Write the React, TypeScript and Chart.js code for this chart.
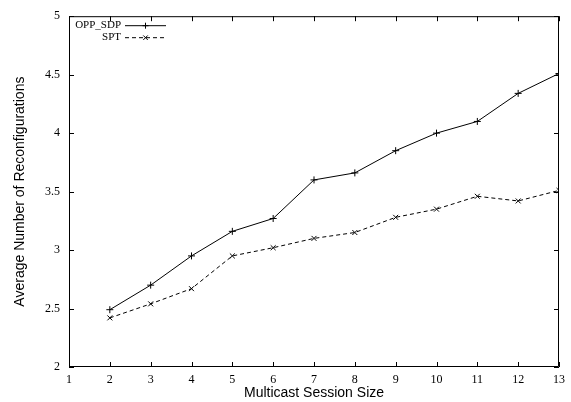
import React, { useEffect, useRef } from "react";
import { Chart, registerables } from "chart.js";

Chart.register(...registerables);

const sessionSizes = [2, 3, 4, 5, 6, 7, 8, 9, 10, 11, 12, 13];
const oppSdp = [2.49, 2.7, 2.95, 3.16, 3.27, 3.6, 3.66, 3.85, 4.0, 4.1, 4.34, 4.51];
const spt = [2.42, 2.54, 2.67, 2.95, 3.02, 3.1, 3.15, 3.28, 3.35, 3.46, 3.42, 3.51];
const seriesNames = ["OPP_SDP", "SPT"];
const xTicks = [1, 2, 3, 4, 5, 6, 7, 8, 9, 10, 11, 12, 13];
const yTicks = [2, 2.5, 3, 3.5, 4, 4.5, 5];

const INK = "#000000";
const SERIF = "'Liberation Serif', 'Times New Roman', serif";
const SANS = "'Liberation Sans', Arial, sans-serif";

const framePlugin = {
  id: "gnuplotFrame",
  afterDraw(chart: any) {
    const { ctx, chartArea } = chart;
    const { left, right, top, bottom } = chartArea;
    const xs = chart.scales.x;
    const ys = chart.scales.y;
    const tl = 5;
    ctx.save();
    ctx.strokeStyle = INK;
    ctx.lineWidth = 1;
    ctx.setLineDash([]);
    ctx.beginPath();
    ctx.rect(left + 0.5, top + 0.5, right - left - 1, bottom - top - 1);
    ctx.stroke();
    ctx.beginPath();
    for (const v of xTicks) {
      const px = Math.round(xs.getPixelForValue(v)) + 0.5;
      ctx.moveTo(px, bottom);
      ctx.lineTo(px, bottom - tl);
      ctx.moveTo(px, top);
      ctx.lineTo(px, top + tl);
    }
    for (const v of yTicks) {
      const py = Math.round(ys.getPixelForValue(v)) + 0.5;
      ctx.moveTo(left, py);
      ctx.lineTo(left + tl, py);
      ctx.moveTo(right, py);
      ctx.lineTo(right - tl, py);
    }
    ctx.stroke();

    // legend (top-left, inside)
    const textRight = left + 52;
    const lineStart = left + 56;
    const lineEnd = left + 97;
    const mid = (lineStart + lineEnd) / 2;
    const rows = [top + 9, top + 21];
    ctx.font = "11px " + SERIF;
    ctx.fillStyle = INK;
    ctx.textAlign = "right";
    ctx.textBaseline = "middle";
    chart.data.datasets.forEach((ds: any, i: number) => {
      const y = rows[i] + 0.5;
      ctx.fillText(ds.label, textRight, rows[i]);
      ctx.beginPath();
      ctx.setLineDash(ds.borderDash || []);
      ctx.moveTo(lineStart, y);
      ctx.lineTo(lineEnd, y);
      ctx.stroke();
      ctx.setLineDash([]);
      ctx.beginPath();
      const r = 3;
      if (ds.pointStyle === "cross") {
        ctx.moveTo(mid - r, y);
        ctx.lineTo(mid + r, y);
        ctx.moveTo(mid, y - r);
        ctx.lineTo(mid, y + r);
      } else {
        const d = r * 0.75;
        ctx.moveTo(mid - d, y - d);
        ctx.lineTo(mid + d, y + d);
        ctx.moveTo(mid - d, y + d);
        ctx.lineTo(mid + d, y - d);
      }
      ctx.stroke();
    });
    ctx.restore();
  },
};

export default function App() {
  const ref = useRef<HTMLCanvasElement | null>(null);
  useEffect(() => {
    document.body.style.margin = "0";
    const canvas = ref.current;
    if (!canvas) return;
    const chart = new Chart(canvas, {
      type: "line",
      data: {
        datasets: [
          {
            label: seriesNames[0],
            data: sessionSizes.map((x, i) => ({ x, y: oppSdp[i] })),
            borderColor: INK,
            backgroundColor: INK,
            borderWidth: 1,
            pointStyle: "cross",
            pointRadius: 3.5,
            pointBorderWidth: 1,
            pointBorderColor: INK,
            tension: 0,
          },
          {
            label: seriesNames[1],
            data: sessionSizes.map((x, i) => ({ x, y: spt[i] })),
            borderColor: INK,
            backgroundColor: INK,
            borderWidth: 1,
            borderDash: [4, 3],
            pointStyle: "crossRot",
            pointRadius: 3.5,
            pointBorderWidth: 1,
            pointBorderColor: INK,
            tension: 0,
          },
        ],
      },
      options: {
        animation: false,
        responsive: false,
        maintainAspectRatio: false,
        layout: { padding: { top: 14, right: 10, left: 0, bottom: 0 } },
        plugins: {
          legend: { display: false },
          tooltip: { enabled: false },
        },
        scales: {
          x: {
            type: "linear",
            min: 1,
            max: 13,
            afterFit: (s: any) => {
              s.height = 35;
            },
            afterBuildTicks: (s: any) => {
              s.ticks = xTicks.map((v) => ({ value: v }));
            },
            grid: { display: false, drawTicks: false },
            border: { display: false },
            ticks: {
              color: INK,
              padding: 6,
              maxRotation: 0,
              autoSkip: false,
              callback: (v: any) => String(v),
              font: { family: SERIF, size: 12 },
            },
            title: {
              display: true,
              text: "Multicast Session Size",
              color: INK,
              padding: { top: 0, bottom: 0 },
              font: { family: SANS, size: 14 },
            },
          },
          y: {
            type: "linear",
            min: 2,
            max: 5,
            afterFit: (s: any) => {
              s.width = 69;
            },
            afterBuildTicks: (s: any) => {
              s.ticks = yTicks.map((v) => ({ value: v }));
            },
            grid: { display: false, drawTicks: false },
            border: { display: false },
            ticks: {
              color: INK,
              padding: 9,
              autoSkip: false,
              callback: (v: any) => String(v),
              font: { family: SERIF, size: 12 },
            },
            title: {
              display: true,
              text: "Average Number of Reconfigurations",
              color: INK,
              padding: { top: 12, bottom: 0 },
              font: { family: SANS, size: 14 },
            },
          },
        },
      },
      plugins: [framePlugin],
    });
    return () => chart.destroy();
  }, []);
  return (
    <div style={{ position: "absolute", left: 0, top: 0, width: 571, height: 402 }}>
      <canvas ref={ref} width={571} height={402} style={{ display: "block" }} />
    </div>
  );
}
